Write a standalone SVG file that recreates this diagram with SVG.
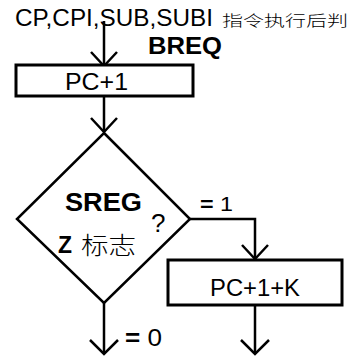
<svg xmlns="http://www.w3.org/2000/svg" width="354" height="356" viewBox="0 0 354 356">
<defs>
<style>
.ln{fill:none;stroke:#000;stroke-width:2.5}
.bx{fill:#fff;stroke:#000;stroke-width:3}
.t{font-family:"Liberation Sans",Arial,sans-serif;fill:#000}
.b{font-weight:bold}
.cn{font-family:"Noto Sans CJK SC",sans-serif;fill:#000;font-weight:300}
</style>
</defs>
<g id="connectors">
<path class="ln" d="M104 21 V66"/>
<path class="ln" d="M91 52 L104 66 L117 52"/>
<path class="ln" d="M104 96 V132"/>
<path class="ln" d="M91 118 L104 132 L117 118"/>
<path class="ln" d="M190 219 H255 V259"/>
<path class="ln" d="M242 245 L255 259 L268 245"/>
<path class="ln" d="M104 303 V354"/>
<path class="ln" d="M90 340 L104 354 L118 340"/>
<path class="ln" d="M255 305 V354"/>
<path class="ln" d="M241 340 L255 354 L269 340"/>
</g>
<g id="title">
<text class="t" x="15" y="26" font-size="23" textLength="198" lengthAdjust="spacingAndGlyphs">CP,CPI,SUB,SUBI</text>
<text class="cn" x="222" y="26" font-size="15" textLength="126" lengthAdjust="spacingAndGlyphs">指令执行后判</text>
<text class="t b" x="148" y="54" font-size="23" textLength="74" lengthAdjust="spacingAndGlyphs">BREQ</text>
</g>
<g id="pc1">
<rect class="bx" x="16" y="65" width="177" height="31"/>
<text class="t" x="65" y="90" font-size="24" textLength="63" lengthAdjust="spacingAndGlyphs">PC+1</text>
</g>
<g id="decision">
<path class="ln" d="M104 133 L190 219 L104 303 L17 219 Z"/>
<text class="t b" x="65" y="211" font-size="25" textLength="77" lengthAdjust="spacingAndGlyphs">SREG</text>
<text class="t" x="151" y="232" font-size="26">?</text>
<text class="t b" x="58" y="253" font-size="24" textLength="14" lengthAdjust="spacingAndGlyphs">Z</text>
<text class="cn" x="81" y="254" font-size="24" textLength="55" lengthAdjust="spacingAndGlyphs">标志</text>
<text class="t" x="200" y="211" font-size="21" textLength="33" lengthAdjust="spacingAndGlyphs"><tspan class="b">=</tspan> 1</text>
<text class="t" x="125" y="346" font-size="23" textLength="37" lengthAdjust="spacingAndGlyphs"><tspan class="b">=</tspan> 0</text>
</g>
<g id="pc1k">
<rect class="bx" x="168" y="260" width="174" height="45"/>
<text class="t" x="210" y="296" font-size="23" textLength="90" lengthAdjust="spacingAndGlyphs">PC+1+K</text>
</g>
</svg>
